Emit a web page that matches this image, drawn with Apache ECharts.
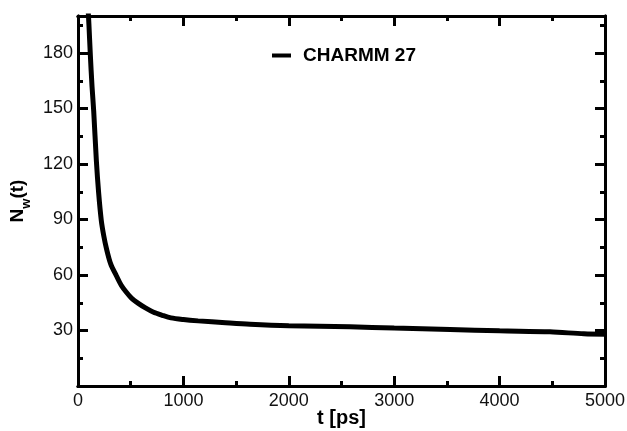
<!DOCTYPE html>
<html><head><meta charset="utf-8">
<script src="https://cdn.jsdelivr.net/npm/echarts@6/dist/echarts.min.js"></script>
<style>html,body{margin:0;padding:0;background:#fff;overflow:hidden}#c{width:627px;height:431px}</style>
</head><body><div id="c"></div>
<script>
const tValues = [90, 104, 117, 133, 149, 174, 196, 221, 245, 269, 310, 364, 410, 459, 510, 569, 640, 712, 800, 882, 1000, 1139, 1400, 1632, 2000, 2581, 3000, 3530, 4000, 4478, 4800, 5000];
const nwValues = [210, 195, 179, 162, 148.6, 122, 104.3, 89.5, 81, 74.5, 66, 59.6, 54.5, 50.7, 47.4, 44.8, 42.2, 40, 38.2, 36.8, 35.9, 35.2, 34.2, 33.4, 32.6, 32.0, 31.3, 30.5, 29.8, 29.3, 28.2, 28.0];
const seriesName = 'CHARMM 27';
const xTicks = [0, 1000, 2000, 3000, 4000, 5000];
const yTicks = [30, 60, 90, 120, 150, 180];

const font = 'Liberation Sans';
const data = tValues.map((t, i) => [t, nwValues[i]]);
const frame = {show: true, onZero: false, lineStyle: {color: '#000', width: 3}};
function xAx(pos, len, interval, labels) {
  return {type: 'value', position: pos, min: 0, max: 5000, interval: interval,
    axisLine: frame, splitLine: {show: false},
    axisTick: {show: true, inside: true, length: len, lineStyle: {color: '#000', width: 3}},
    axisLabel: {show: labels, margin: 6, color: '#111', fontFamily: font, fontSize: 18,
      formatter: v => xTicks.includes(v) ? String(v) : ''}};
}
function yAx(pos, len, interval, labels) {
  return {type: 'value', position: pos, min: 0, max: 200, interval: interval,
    axisLine: frame, splitLine: {show: false},
    axisTick: {show: true, inside: true, length: len, lineStyle: {color: '#000', width: 3}},
    axisLabel: {show: labels, margin: 5, color: '#111', fontFamily: font, fontSize: 18,
      formatter: v => yTicks.includes(v) ? String(v) : ''}};
}
const xs = [xAx('bottom', 10, 1000, true), xAx('bottom', 5, 500, false), xAx('top', 10, 1000, false), xAx('top', 5, 500, false)];
xs[0].name = 't [ps]';
xs[0].nameLocation = 'middle';
xs[0].nameGap = 32;
xs[0].nameMoveOverlap = false;
xs[0].nameTextStyle = {fontFamily: font, fontWeight: 'bold', fontSize: 20, color: '#000', verticalAlign: 'middle'};
const ys = [yAx('left', 10, 30, true), yAx('left', 5, 15, false), yAx('right', 10, 30, false), yAx('right', 5, 15, false)];
ys[0].name = '{a|N}{s|w}{a|(t)}';
ys[0].nameLocation = 'middle';
ys[0].nameGap = 51;
ys[0].nameMoveOverlap = false;
ys[0].nameTextStyle = {rich: {
  a: {fontFamily: font, fontWeight: 'bold', fontSize: 19, color: '#000', lineHeight: 24, verticalAlign: 'bottom'},
  s: {fontFamily: font, fontWeight: 'bold', fontSize: 13, color: '#000', lineHeight: 24, verticalAlign: 'bottom', padding: [0, 0, -6, 0]}
}};
const chart = echarts.init(document.getElementById('c'), null, {renderer: 'canvas', width: 627, height: 431});
chart.setOption({
  animation: false,
  backgroundColor: '#fff',
  grid: {left: 78, top: 16, width: 527, height: 370, containLabel: false, outerBoundsMode: 'none'},
  legend: {show: true, left: 272, top: 46, padding: 0, icon: 'rect', itemWidth: 19, itemHeight: 4,
    textStyle: {fontFamily: font, fontWeight: 'bold', fontSize: 19, color: '#000', padding: [4, 0, 0, 7]},
    data: [seriesName]},
  xAxis: xs,
  yAxis: ys,
  series: [{name: seriesName, type: 'line', data: data, xAxisIndex: 0, yAxisIndex: 0,
    smooth: 0.3, showSymbol: false, clip: true,
    itemStyle: {color: '#000'},
    lineStyle: {color: '#000', width: 5}}]
});
</script></body></html>
